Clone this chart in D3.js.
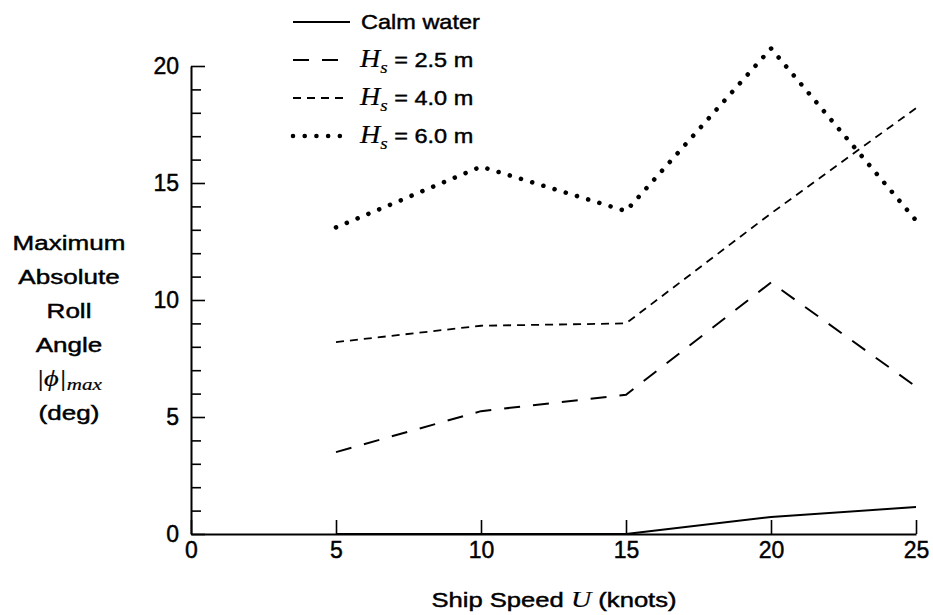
<!DOCTYPE html>
<html>
<head>
<meta charset="utf-8">
<script src="https://cdn.jsdelivr.net/npm/d3@7"></script>
<style>
  body { margin: 0; background: #fff; }
  text { font-family: "Liberation Sans", Arial, sans-serif; fill: #000; stroke: #000; stroke-width: 0.45px; }
  .math { font-family: "Liberation Serif", "DejaVu Serif", serif; font-style: italic; stroke-width: 0.2px; }
</style>
</head>
<body>
<script>
// ship speed (knots)
const speeds = [5, 10, 15, 20, 25];

// max absolute roll angle (deg) per speed
const calmWater = [0, 0, 0, 0.73, 1.15];
const hs25 = [3.5, 5.25, 5.95, 10.75, 6.3];
const hs40 = [8.2, 8.9, 9.0, 13.7, 18.2];
const hs60 = [13.1, 15.7, 13.8, 20.75, 13.4];

const seriesNames = ["Calm water", "2.5", "4.0", "6.0"];
const xTicks = [0, 5, 10, 15, 20, 25];
const yTicks = [0, 5, 10, 15, 20];
const yLabelLines = ["Maximum", "Absolute", "Roll", "Angle", "PHI", "(deg)"];

const [width, height] = [933, 615];

const svg = d3.select("body")
  .append("svg")
  .attr("width", width)
  .attr("height", height);

const x = d3.scaleLinear().domain([0, 25]).range([191, 916]);
const y = d3.scaleLinear().domain([0, 20]).range([534, 66]);

// minor y ticks (every 1 deg)
svg.append("g")
  .attr("transform", `translate(${x(0)},0)`)
  .call(d3.axisLeft(y)
    .tickValues(d3.range(0, 21).filter(v => v % 5 !== 0))
    .tickSize(-10)
    .tickSizeOuter(0)
    .tickFormat(""))
  .call(g => g.select(".domain").remove())
  .call(g => g.selectAll("line").attr("stroke-width", 1.6));

// major y axis
const yAxis = svg.append("g")
  .attr("transform", `translate(${x(0)},0)`)
  .call(d3.axisLeft(y)
    .tickValues(yTicks)
    .tickSize(-14)
    .tickSizeOuter(0)
    .tickPadding(12));
yAxis.select(".domain").attr("stroke-width", 2);
yAxis.selectAll("line").attr("stroke-width", 1.6);
yAxis.selectAll("text")
  .style("font-family", "Liberation Sans, Arial, sans-serif")
  .style("font-size", "23px");

// x axis
const xAxis = svg.append("g")
  .attr("transform", `translate(0,${y(0)})`)
  .call(d3.axisBottom(x)
    .tickValues(xTicks)
    .tickSize(-14)
    .tickSizeOuter(0)
    .tickPadding(8));
xAxis.select(".domain").attr("stroke-width", 2);
xAxis.selectAll("line").attr("stroke-width", 1.6);
xAxis.selectAll("text")
  .style("font-family", "Liberation Sans, Arial, sans-serif")
  .style("font-size", "23px");

const styles = [
  { dash: null, width: 2, cap: "butt" },
  { dash: "16,13", width: 2, cap: "butt" },
  { dash: "8,6", width: 1.8, cap: "butt" },
  { dash: "0.01,11.7", width: 4.6, cap: "round" }
];

const allSeries = [calmWater, hs25, hs40, hs60];

const line = d3.line()
  .x((d, i) => x(speeds[i]))
  .y(d => y(d));

svg.append("g")
  .selectAll("path")
  .data(allSeries)
  .enter()
  .append("path")
  .attr("d", line)
  .attr("fill", "none")
  .attr("stroke", "#000")
  .attr("stroke-width", (d, i) => styles[i].width)
  .attr("stroke-linecap", (d, i) => styles[i].cap)
  .attr("stroke-dasharray", (d, i) => styles[i].dash);

// legend
const legend = svg.append("g").classed("legend", true);
const rowY = [22, 60, 98, 136];
const lineEnds = [350, 341, 349, 346];

seriesNames.forEach((name, i) => {
  legend.append("line")
    .attr("x1", 293)
    .attr("x2", lineEnds[i])
    .attr("y1", rowY[i])
    .attr("y2", rowY[i])
    .attr("stroke", "#000")
    .attr("stroke-width", styles[i].width)
    .attr("stroke-linecap", styles[i].cap)
    .attr("stroke-dasharray", styles[i].dash);

  const t = legend.append("text")
    .attr("transform", `translate(${i === 0 ? 361 : 360},${rowY[i] + 7}) scale(1.12,1)`)
    .style("font-size", "21px");

  if (i === 0) {
    t.text(name);
  } else {
    t.append("tspan").classed("math", true).style("font-size", "25px").text("H");
    t.append("tspan").classed("math", true).style("font-size", "17px").attr("dy", 6).text("s");
    t.append("tspan").attr("dy", -6).text(` = ${name} m`);
  }
});

// y label
const yLab = svg.append("g");
yLabelLines.forEach((s, i) => {
  const t = yLab.append("text")
    .attr("transform", `translate(69,${250 + i * 34}) scale(1.24,1)`)
    .attr("text-anchor", "middle")
    .style("font-size", "21px");
  if (s === "PHI") {
    t.append("tspan").classed("math", true).style("font-size", "23px").text("|\u03D5|");
    t.append("tspan").classed("math", true).style("font-size", "17px").attr("dy", 4).text("max");
  } else {
    t.text(s);
  }
});

// x label
const xLab = svg.append("text")
  .attr("transform", `translate(554,607) scale(1.22,1)`)
  .attr("text-anchor", "middle")
  .style("font-size", "21px");
xLab.append("tspan").text("Ship Speed ");
xLab.append("tspan").classed("math", true).style("font-size", "23px").text("U");
xLab.append("tspan").text(" (knots)");
</script>
</body>
</html>
